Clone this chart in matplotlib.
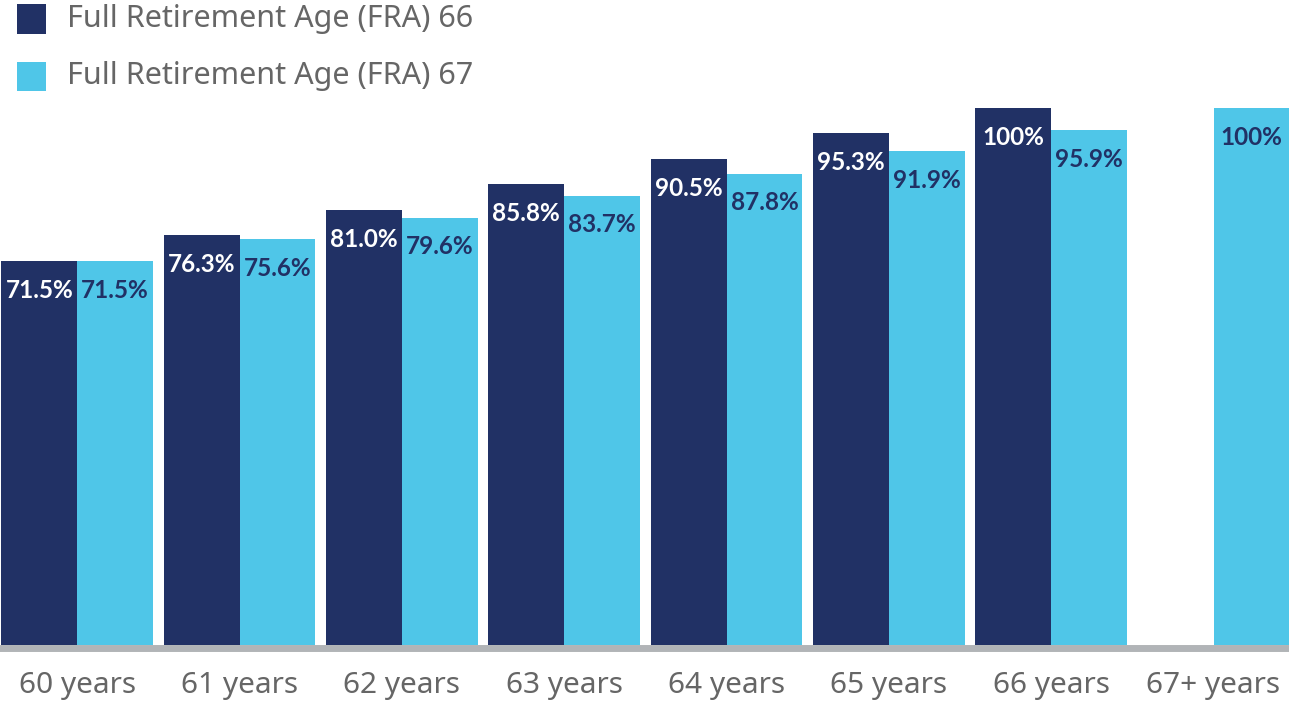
import numpy as np
import matplotlib
matplotlib.use("Agg")
import matplotlib.pyplot as plt
from matplotlib.patches import Rectangle

OUT_PATH = "out.png"

CATEGORIES = ["60 years", "61 years", "62 years", "63 years",
              "64 years", "65 years", "66 years", "67+ years"]
FRA_66 = [71.5, 76.3, 81.0, 85.8, 90.5, 95.3, 100.0, np.nan]
FRA_67 = [71.5, 75.6, 79.6, 83.7, 87.8, 91.9, 95.9, 100.0]
SERIES_NAMES = ["Full Retirement Age (FRA) 66", "Full Retirement Age (FRA) 67"]

DARK = "#213165"
LIGHT = "#4fc6e8"
GREY_TEXT = "#666666"
TEXT_FONT = ["Noto Sans", "DejaVu Sans"]
VALUE_FONT = ["Lato", "DejaVu Sans"]


def fmt(value: float) -> str:
    if value >= 100:
        return "100%"
    return f"{value:.1f}%"


def main() -> None:
    plt.rcParams["font.family"] = VALUE_FONT

    fig = plt.figure(figsize=(12.89, 7.03), dpi=100)
    ax = fig.add_axes([0.0, 1 - 645 / 703, 1.0, (645 - 108) / 703])

    # spine position first: moving it rebuilds the tick objects
    for spine in ["top", "right", "left"]:
        ax.spines[spine].set_visible(False)
    ax.spines["bottom"].set_color("#b1b4b7")
    ax.spines["bottom"].set_linewidth(5)
    ax.spines["bottom"].set_position(("outward", 2.5))

    x = np.arange(len(CATEGORIES))
    width = 0.467
    bars_66 = ax.bar(x - width / 2, FRA_66, width, color=DARK, linewidth=0)
    bars_67 = ax.bar(x + width / 2, FRA_67, width, color=LIGHT, linewidth=0)

    for bars, values, text_color in [(bars_66, FRA_66, "white"), (bars_67, FRA_67, DARK)]:
        for bar, value in zip(bars, values):
            if np.isnan(value):
                continue
            ax.annotate(
                fmt(value),
                xy=(bar.get_x() + bar.get_width() / 2, value),
                xytext=(0, -21),
                textcoords="offset points",
                ha="center",
                va="center",
                family=VALUE_FONT,
                fontsize=17.5,
                fontweight="bold",
                color=text_color,
            )

    ax.set_xlim(-0.476, 7.465)
    ax.set_ylim(0, 100)
    ax.set_yticks([])
    ax.set_xticks(x)
    ax.set_xticklabels(CATEGORIES, fontsize=21.5, family=TEXT_FONT, color=GREY_TEXT)
    ax.tick_params(axis="x", length=0, pad=16)

    # legend drawn by hand at the top left
    for i, (name, color) in enumerate(zip(SERIES_NAMES, [DARK, LIGHT])):
        y_center = 19 + i * 57
        fig.add_artist(Rectangle((17 / 1289, 1 - (y_center + 14.5) / 703),
                                 29 / 1289, 29 / 703,
                                 transform=fig.transFigure, color=color, lw=0))
        fig.text(67 / 1289, 1 - y_center / 703, name, fontsize=22,
                 family=TEXT_FONT, color=GREY_TEXT, ha="left", va="center")

    fig.savefig(OUT_PATH, dpi=100)
    plt.close(fig)


if __name__ == "__main__":
    main()
